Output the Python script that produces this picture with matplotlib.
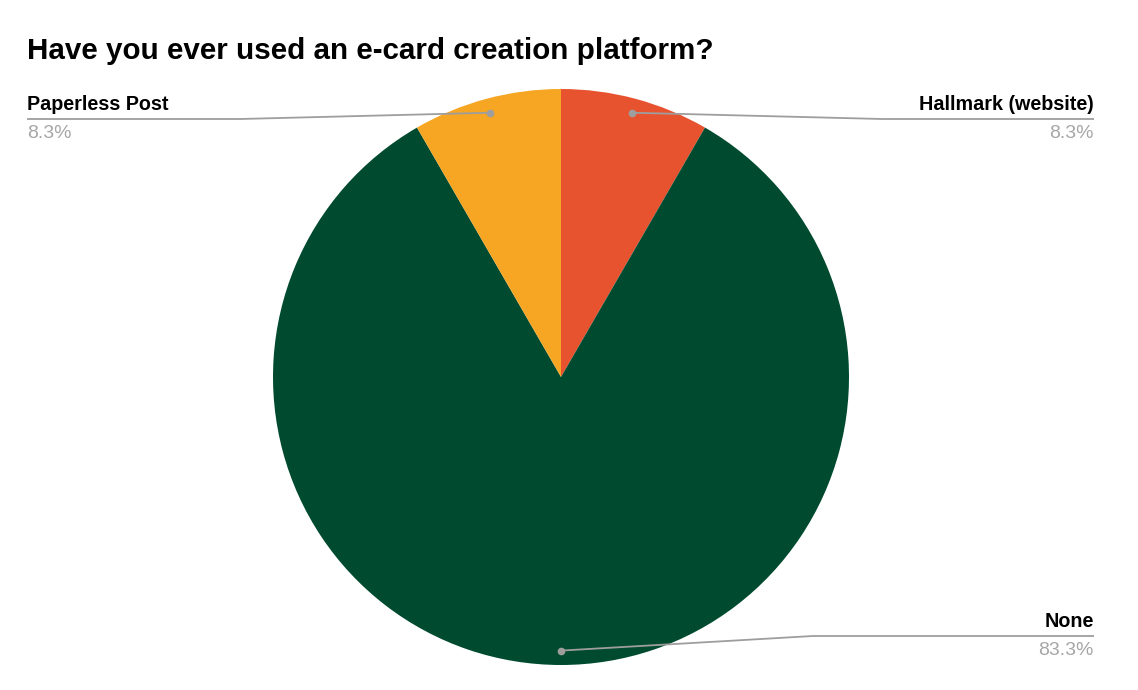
import numpy as np
import matplotlib
matplotlib.use('Agg')
import matplotlib.pyplot as plt

plt.rcParams['font.family'] = ['Liberation Sans', 'DejaVu Sans']

title = 'Have you ever used an e-card creation platform?'
labels = ['Hallmark (website)', 'None', 'Paperless Post']
counts = [1, 10, 1]
colors = ['#E8532F', '#004B30', '#F6A623']

W, H = 1138, 690
fig = plt.figure(figsize=(W / 100, H / 100), dpi=100)
ax = fig.add_axes([0, 0, 1, 1])

cx, cy, R = 561, 377, 288
# y axis is inverted, so counterclock=True draws clockwise on screen
wedges, _ = ax.pie(counts, colors=colors, startangle=-90, counterclock=True,
                   center=(cx, cy), radius=R, frame=True,
                   wedgeprops=dict(linewidth=0))
ax.set_xlim(0, W)
ax.set_ylim(H, 0)
ax.set_aspect('equal')
ax.axis('off')

ax.text(27, 59, title, fontsize=21.3, fontweight='bold',
        va='baseline', ha='left', color='#000000')

total = sum(counts)
pcts = [100 * c / total for c in counts]

# label layout: (side, underline y)
layout = {
    'Hallmark (website)': ('right', 119),
    'None': ('right', 636),
    'Paperless Post': ('left', 119),
}
grey = '#9e9e9e'
for w, lab, p in zip(wedges, labels, pcts):
    ang = np.deg2rad((w.theta1 + w.theta2) / 2)
    dx = cx + 0.95 * R * np.cos(ang)
    dy = cy + 0.95 * R * np.sin(ang)
    side, uy = layout[lab]
    if side == 'right':
        x_end = 1094
        x_kink = max(dx + 250, 813)
        ha = 'right'
    else:
        x_end = 27
        x_kink = dx - 250
        ha = 'left'
    ax.plot([dx, x_kink, x_end], [dy, uy, uy], color=grey, lw=1.3,
            solid_capstyle='butt', zorder=5)
    ax.plot(dx, dy, 'o', color=grey, ms=4.5, zorder=6)
    ax.text(x_end, uy - 9, lab, ha=ha, va='baseline', fontsize=14.2,
            fontweight='bold', color='#000000')
    ax.text(x_end, uy + 19, f'{p:.1f}%', ha=ha, va='baseline', fontsize=14,
            color='#a6a6a6')

fig.savefig('out.png', dpi=100, facecolor='white')
